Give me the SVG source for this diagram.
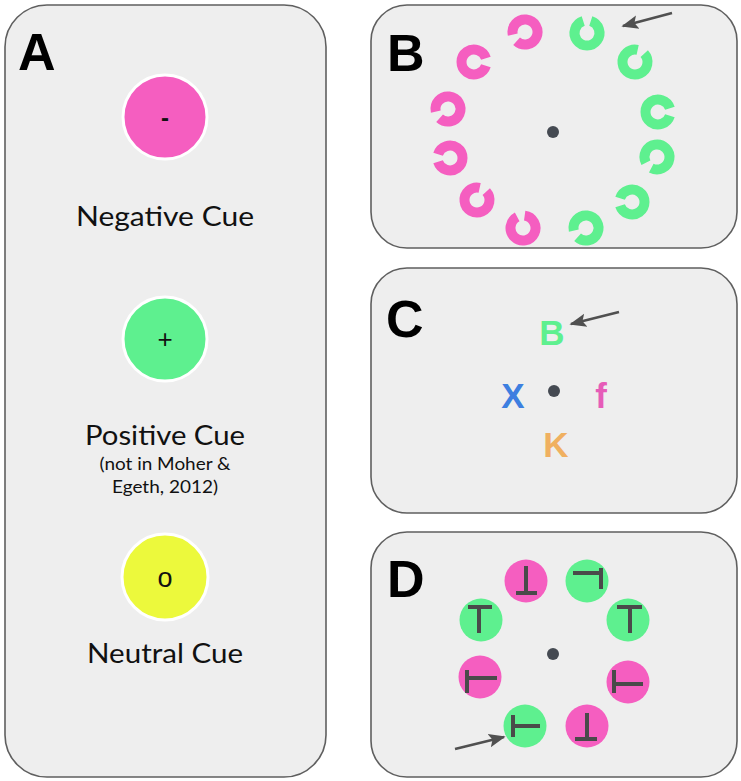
<svg xmlns="http://www.w3.org/2000/svg" width="741" height="781" viewBox="0 0 741 781">
<defs>
<style>
.panel{fill:#eeeeee;stroke:#5f5f5f;stroke-width:1.6}
.lbl{font-family:"Liberation Sans",Arial,sans-serif;font-weight:bold;font-size:52px;fill:#000}
.cap{font-family:Lato,"Open Sans",sans-serif;font-size:27px;fill:#111;text-anchor:middle}
.sub{font-family:Lato,"Open Sans",sans-serif;font-size:17px;fill:#111;text-anchor:middle}
.sym{font-family:"Liberation Sans",Arial,sans-serif;fill:#111;text-anchor:middle}
.cue{stroke:#ffffff;stroke-width:3}
.pink{fill:#f55ec0}
.green{fill:#5ef08f}
.yellow{fill:#ecf93c}
.ringP{fill:none;stroke:#f55ec0;stroke-width:10}
.ringG{fill:none;stroke:#5ef08f;stroke-width:10}
.dot{fill:#454a52}
.t{fill:none;stroke:#4a4a4a;stroke-width:4;stroke-linecap:butt}
.let{font-family:"Liberation Sans",Arial,sans-serif;font-weight:bold;font-size:35px;text-anchor:middle}
.arrow{stroke:#505050;stroke-width:2.6;fill:none;marker-end:url(#ah)}
</style>
<marker id="ah" viewBox="0 0 10 10" refX="9" refY="5" markerWidth="6.5" markerHeight="6.5" orient="auto" markerUnits="strokeWidth">
<path d="M0,1 L10,5 L0,9 L2,5 Z" fill="#505050"/>
</marker>
<path id="ring" d="M 11.91 3.8 A 12.5 12.5 0 1 1 11.91 -3.8"/>
</defs>

<g id="panelA">
<rect class="panel" x="5" y="5" width="321" height="772" rx="42"/>
<text class="lbl" x="18" y="70">A</text>
<g id="negCue">
<circle class="cue pink" cx="165" cy="117" r="42"/>
<text class="sym" x="165" y="126" font-size="24" font-weight="bold">-</text>
<text class="cap" x="165" y="226" textLength="178" lengthAdjust="spacingAndGlyphs">Negative Cue</text>
</g>
<g id="posCue">
<circle class="cue green" cx="165" cy="339" r="42"/>
<text class="sym" x="165" y="348" font-size="26">+</text>
<text class="cap" x="165" y="445" textLength="160" lengthAdjust="spacingAndGlyphs">Positive Cue</text>
<text class="sub" x="165" y="470" textLength="131" lengthAdjust="spacingAndGlyphs">(not in Moher &amp;</text>
<text class="sub" x="165" y="493" textLength="106" lengthAdjust="spacingAndGlyphs">Egeth, 2012)</text>
</g>
<g id="neuCue">
<circle class="cue yellow" cx="165" cy="577" r="43"/>
<text class="sym" x="165" y="587" font-size="27">o</text>
<text class="cap" x="165" y="663" textLength="156" lengthAdjust="spacingAndGlyphs">Neutral Cue</text>
</g>
</g>

<g id="panelB">
<rect class="panel" x="371" y="5" width="366" height="243" rx="36"/>
<text class="lbl" x="387" y="71">B</text>
<circle class="dot" cx="553" cy="132" r="6"/>
<use href="#ring" class="ringP" transform="translate(525,32) rotate(150)"/>
<use href="#ring" class="ringG" transform="translate(587,33) rotate(270)"/>
<use href="#ring" class="ringP" transform="translate(474,62) rotate(0)"/>
<use href="#ring" class="ringG" transform="translate(635,62) rotate(300)"/>
<use href="#ring" class="ringP" transform="translate(448,109) rotate(150)"/>
<use href="#ring" class="ringG" transform="translate(658,112) rotate(0)"/>
<use href="#ring" class="ringP" transform="translate(450,158) rotate(180)"/>
<use href="#ring" class="ringG" transform="translate(657,157) rotate(135)"/>
<use href="#ring" class="ringP" transform="translate(477,200) rotate(300)"/>
<use href="#ring" class="ringG" transform="translate(632,202) rotate(180)"/>
<use href="#ring" class="ringP" transform="translate(523,228) rotate(260)"/>
<use href="#ring" class="ringG" transform="translate(586,228) rotate(150)"/>
</g>

<g id="panelC">
<rect class="panel" x="371" y="268" width="366" height="245" rx="36"/>
<text class="lbl" x="386" y="337">C</text>
<circle class="dot" cx="554" cy="391" r="6"/>
<text class="let" x="552" y="345" fill="#5ef08f">B</text>
<text class="let" x="513" y="408" fill="#3d7fe0">X</text>
<text class="let" x="601" y="408" fill="#e65cb8">f</text>
<text class="let" x="556" y="457" fill="#f0b060">K</text>
</g>

<g id="panelD">
<rect class="panel" x="371" y="532" width="366" height="245" rx="36"/>
<text class="lbl" x="387" y="597">D</text>
<circle class="dot" cx="553" cy="654" r="6"/>
<g transform="translate(526,581)"><circle class="pink" r="21.5"/><path class="t" d="M0,-15 V12 M-10,12 H11"/></g>
<g transform="translate(587,581)"><circle class="green" r="21.5"/><path class="t" d="M-14,-8 H14 M14,-13 V8"/></g>
<g transform="translate(481,620)"><circle class="green" r="21.5"/><path class="t" d="M-13,-13 H11 M-2,-13 V13"/></g>
<g transform="translate(628,620)"><circle class="green" r="21.5"/><path class="t" d="M-11,-13 H14 M2,-13 V13"/></g>
<g transform="translate(480,677)"><circle class="pink" r="21.5"/><path class="t" d="M-13,-7 V16 M-13,1 H17"/></g>
<g transform="translate(628,682)"><circle class="pink" r="21.5"/><path class="t" d="M-14,-12 V11 M-14,2 H15"/></g>
<g transform="translate(525,726)"><circle class="green" r="21.5"/><path class="t" d="M-12,-11 V11 M-12,0 H15"/></g>
<g transform="translate(587,726)"><circle class="pink" r="21.5"/><path class="t" d="M0,-13 V13 M-12,13 H10"/></g>
</g>

<g id="connectors">
<line class="arrow" x1="672" y1="13" x2="623" y2="26"/>
<line class="arrow" x1="619" y1="312" x2="571" y2="324"/>
<line class="arrow" x1="455" y1="749" x2="504" y2="737"/>
</g>
</svg>
